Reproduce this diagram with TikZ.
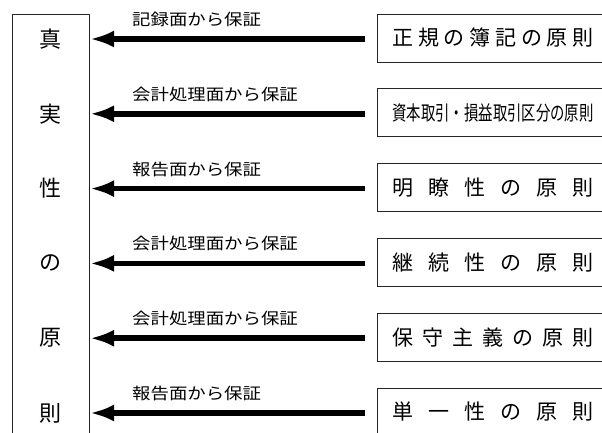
\documentclass[tikz,border=0pt]{standalone}
\usepackage{fontspec}
\setmainfont{Noto Sans CJK JP}
\usetikzlibrary{arrows.meta}
\newcommand{\spreadtext}[1]{\makebox[201pt][s]{#1}}
\begin{document}
\begin{tikzpicture}[x=1pt,y=-1pt,
  frame/.style={draw=black!85, line width=1pt},
  rbox/.style={frame, anchor=west, minimum width=231pt, minimum height=48pt, inner sep=0pt, font=\fontsize{21}{21}\selectfont},
  col/.style={inner sep=0pt, font=\fontsize{22}{22}\selectfont},
  lab/.style={anchor=west, inner sep=0pt, font=\fontsize{16}{16}\selectfont},
  arr/.style={line width=5.5pt, -{Latex[length=24pt,width=17pt]}, shorten <=12pt},
]
\useasboundingbox (0,0) rectangle (602,432);
\clip (0,0) rectangle (602,432);

\node (L) [frame, anchor=north west, minimum width=77pt, minimum height=440pt, inner sep=0pt] at (12,14) {};

\node (r1) [rbox] at (377,38) {\spreadtext{正\hfill 規\hfill の\hfill 簿\hfill 記\hfill の\hfill 原\hfill 則}};
\node (r2) [rbox] at (377,112.8) {\resizebox{201pt}{\height}{\fontsize{20}{20}\selectfont 資本取引・損益取引区分の原則}};
\node (r3) [rbox] at (377,187.6) {\spreadtext{明\hfill 瞭\hfill 性\hfill の\hfill 原\hfill 則}};
\node (r4) [rbox] at (377,262.4) {\spreadtext{継\hfill 続\hfill 性\hfill の\hfill 原\hfill 則}};
\node (r5) [rbox] at (377,337.2) {\spreadtext{保\hfill 守\hfill 主\hfill 義\hfill の\hfill 原\hfill 則}};
\node (r6) [rbox] at (377,412) {\spreadtext{単\hfill 一\hfill 性\hfill の\hfill 原\hfill 則}};

\foreach \i/\ch/\lab in {1/真/記録面から保証, 2/実/会計処理面から保証, 3/性/報告面から保証, 4/の/会計処理面から保証, 5/原/会計処理面から保証, 6/則/報告面から保証}{
  \coordinate (a\i) at ([yshift=-1pt]L.east |- r\i.west);
  \node (c\i) [col] at (50,0 |- a\i) {\ch};
  \node (t\i) [lab] at ([xshift=42pt,yshift=19.5pt]a\i) {\scalebox{1.15}[1]{\lab}};
  \draw[arr] ([yshift=-1pt]r\i.west) -- (a\i);
}
\end{tikzpicture}
\end{document}
